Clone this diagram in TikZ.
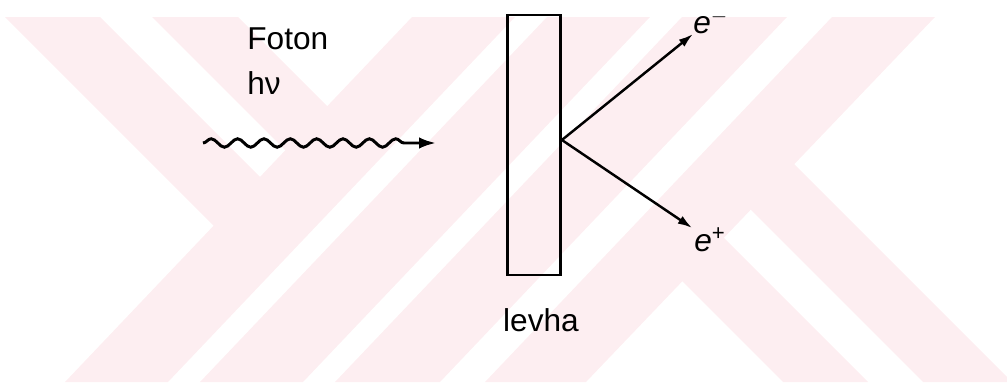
\documentclass[tikz,border=0pt]{standalone}
\usepackage{fontspec}
\setmainfont{Liberation Sans}
\usepackage{tikz}
\usetikzlibrary{arrows.meta, positioning, calc, decorations.pathmorphing}
\definecolor{wmpink}{RGB}{253,238,241}

\begin{document}
\begin{tikzpicture}[
    x=0.02cm, y=-0.02cm,
    node distance=6mm,
    every node/.style={font=\fontsize{18}{22}\selectfont},
    plate/.style={rectangle, draw=black, line width=1.6pt, minimum width=1.06cm, minimum height=5.2cm, inner sep=0pt},
    arrow/.style={-{Latex[length=2.9mm, width=1.8mm]}, line width=1.4pt},
    photon/.style={-{Latex[length=3.4mm, width=2.3mm]}, line width=1.7pt, decorate, decoration={snake, amplitude=2.4pt, segment length=15pt, post length=4mm}},
    wm/.style={fill=wmpink, draw=none}
]
    \useasboundingbox (0,0) rectangle (1007,382);

    % watermark in the background
    \begin{scope}
        \clip (0,17) rectangle (1007,382);
        \fill[wm] (412,17) -- (515,17) -- (168,382) -- (65,382) -- cycle;
        \fill[wm] (547,17) -- (650,17) -- (303,382) -- (200,382) -- cycle;
        \fill[wm] (682,17) -- (787,17) -- (440,382) -- (335,382) -- cycle;
        \fill[wm] (832,17) -- (935,17) -- (586,382) -- (485,382) -- cycle;
        \fill[wm] (5,17) -- (100,17) -- (269.9,186.9) -- (223.6,235.6) -- cycle;
        \fill[wm] (152,17) -- (238,17) -- (337.2,116.2) -- (295.3,160.3) -- cycle;
        \fill[wm] (672.3,271.3) -- (713.8,227.8) -- (868,382) -- (783,382) -- cycle;
        \fill[wm] (740.7,199.7) -- (784.2,154.2) -- (1012,382) -- (923,382) -- cycle;
    \end{scope}

    % plate
    \node[plate] (levha) at (534,145) {};
    \node[below=11mm of levha.south, anchor=base, xshift=0.14cm] (levhalbl) {levha};

    % incoming photon
    \node[anchor=base west, inner sep=0pt] (foton) at (247,50) {Foton};
    \node[below=9mm of foton.base west, anchor=base west, inner sep=0pt] (hnu) {hν};
    \coordinate (phin) at (203,143);
    \coordinate (phout) at (436,143);
    \draw[photon] (phin) -- (phout);

    % pair
    \coordinate (hit) at ([yshift=0.1cm]levha.east);
    \node[anchor=south west, inner sep=0pt] (eminus) at (693,34) {\textit{e}\textsuperscript{$-$}};
    \node[inner sep=1pt] (eplus) at (710,240) {\textit{e}\textsuperscript{+}};
    \draw[arrow] (hit) -- (eminus.south west);
    \draw[arrow] (hit) -- (eplus);
\end{tikzpicture}
\end{document}
